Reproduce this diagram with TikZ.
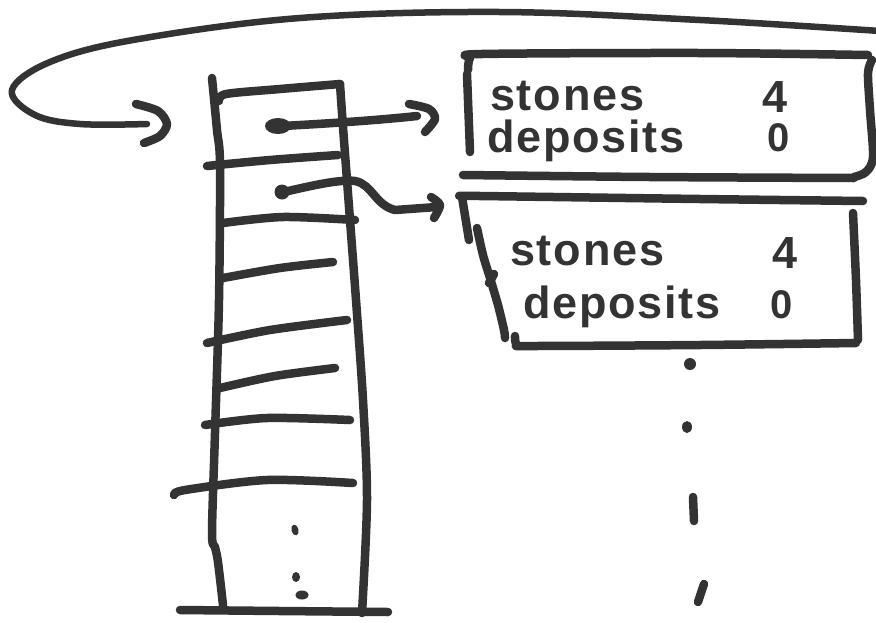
\documentclass[tikz,border=0pt]{standalone}
\usepackage{fontspec}
\newfontfamily\hand[LetterSpace=4]{Liberation Sans}
\definecolor{ink}{HTML}{333333}
\begin{document}
\begin{tikzpicture}[x=1pt,y=-1pt,
  pen/.style={draw=ink, line width=8.5pt, line cap=round, line join=round},
  thinpen/.style={draw=ink, line width=6.5pt, line cap=round, line join=round},
  txt/.style={text=ink, font=\hand\bfseries\fontsize{45}{45}\selectfont, anchor=base west, inner sep=0pt},
  numtxt/.style={text=ink, font=\hand\bfseries\fontsize{40}{40}\selectfont, anchor=base west, inner sep=0pt}]
\useasboundingbox[fill=white] (0,0) rectangle (876,622);

% ---------- array column ----------
\draw[pen] plot[smooth] coordinates {(212,78) (217,130) (220,165) (219,300) (215,433) (212,533) (215,547) (218,562) (223,605)};
\draw[pen] plot[smooth] coordinates {(340,84) (343,127) (350,220) (356,300) (363,400) (367,500) (362,613)};
\draw[pen] plot[smooth] coordinates {(219,101) (226,94) (280,89) (340,84)};
\draw[pen] plot[smooth] coordinates {(207,166) (270,160) (338,155)};
\draw[pen] plot[smooth] coordinates {(223,223) (283,217) (355,220)};
\draw[pen] plot[smooth] coordinates {(223,278) (280,268) (333,262)};
\draw[pen] plot[smooth] coordinates {(207,343) (270,330) (347,320)};
\draw[pen] plot[smooth] coordinates {(220,388) (275,376) (335,368)};
\draw[pen] plot[smooth] coordinates {(205,425) (267,418) (350,420)};
\draw[pen] plot[smooth] coordinates {(174,495) (185,490) (267,480) (353,483)};
\draw[pen] plot[smooth] coordinates {(180,610) (280,611) (388,612)};
% dots in the column
\fill[ink, rotate around={15:(295,530)}] (295,530) ellipse [x radius=3.5pt, y radius=5.5pt];
\fill[ink] (296,577) ellipse [x radius=4pt, y radius=5pt];
\fill[ink] (302,595) ellipse [x radius=6.5pt, y radius=4.5pt];

% ---------- pointers ----------
\coordinate (p1) at (282,126);
\coordinate (b1) at (417,116);
\coordinate (p2) at (284,192);
\coordinate (b2) at (437,207);
\fill[ink] (278,126) ellipse [x radius=13pt, y radius=8pt];
\fill[ink] (282,192) circle [radius=7.5pt];
\draw[pen] (p1) .. controls (340,123) and (390,119) .. (b1);
\draw[pen] plot[smooth] coordinates {(409,104) (429,109) (435,119) (425,132)};
\draw[pen] (p2) .. controls (310,186) and (340,179) .. (355,181)
           .. controls (372,184) and (375,205) .. (395,210) -- (b2);
\draw[pen] plot[smooth] coordinates {(431,197) (440,205) (434,218)};

% ---------- big loop back to the array ----------
\coordinate (l0) at (880,31);
\coordinate (l1) at (147,124);
\draw[thinpen] plot[smooth, tension=0.6] coordinates {(l0) (700,20) (500,12) (300,18) (133,40) (50,62) (12,90) (35,115) (80,124) (l1)};
\draw[pen] plot[smooth] coordinates {(136,104) (158,111) (167,124) (160,136) (144,143)};

% ---------- first record ----------
\draw[pen] plot[smooth] coordinates {(468,70) (470,58) (482,54) (700,53) (868,55)};
\draw[pen] plot[smooth] coordinates {(872,60) (868,73) (870,110) (873,157) (866,172) (854,177)};
\draw[pen] plot[smooth] coordinates {(463,175) (650,177) (854,178)};
\draw[pen] (467,74) -- (470,152);
\node[txt] (s1) at (490,110) {stones};
\node[txt] (d1) at (487,152) {deposits};
\node[txt] (v1) at (762,112) {4};
\node[numtxt] (z1) at (767,151) {0};

% ---------- second record ----------
\draw[pen] plot[smooth] coordinates {(463,196) (480,196) (700,199) (863,201)};
\draw[pen] (462,197) -- (469,240);
\draw[pen] plot[smooth] coordinates {(853,213) (856,280) (858,340)};
\draw[pen] plot[smooth] coordinates {(515,336) (517,345) (532,346) (700,345) (856,343)};
\draw[pen] plot[smooth] coordinates {(477,228) (483,255) (490,278) (498,305) (504,330) (505,338)};
\draw[pen] (489,283) -- (494,274);
\node[txt] (s2) at (510,265) {stones};
\node[txt] (d2) at (523,318) {deposits};
\node[txt] (v2) at (772,268) {4};
\node[numtxt] (z2) at (770,318) {0};

% ---------- continuation marks below the records ----------
\fill[ink] (690,364) circle [radius=6pt];
\fill[ink] (687,427) ellipse [x radius=5pt, y radius=6pt];
\draw[pen] (693,497) -- (694,521);
\draw[pen] (704,584) -- (698,602);
\end{tikzpicture}
\end{document}
